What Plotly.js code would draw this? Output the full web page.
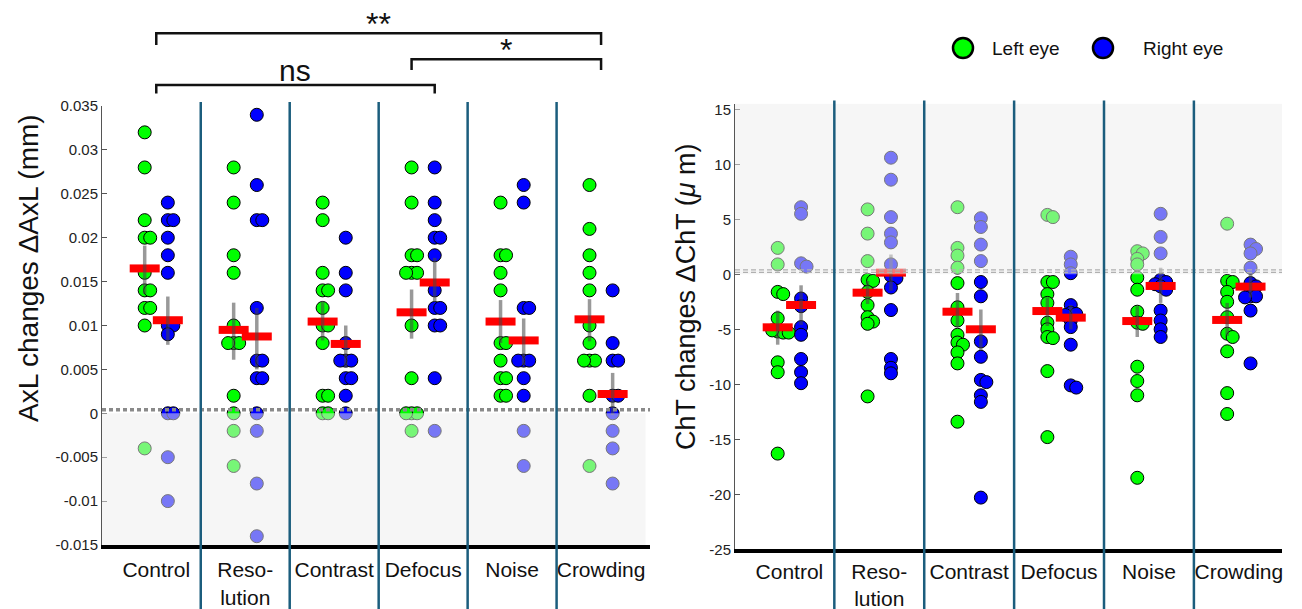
<!DOCTYPE html>
<html>
<head>
<meta charset="utf-8">
<script src="https://cdn.plot.ly/plotly-3.0.1.min.js"></script>
<style>
  html, body { margin: 0; padding: 0; background: #ffffff; }
  #chart { width: 1302px; height: 609px; }
</style>
</head>
<body>
<div id="chart"></div>
<script>
// ---------------- DATA ----------------
const categories = ['Control', 'Reso-<br>lution', 'Contrast', 'Defocus', 'Noise', 'Crowding'];
const catPositions = [1, 2, 3, 4, 5, 6];

// Axial length change (mm), per condition
const axlLeft = [
  [0.032, 0.028, 0.022, 0.020, 0.020, 0.016, 0.014, 0.014, 0.012, 0.012, 0.010, -0.004],
  [0.028, 0.024, 0.018, 0.016, 0.010, 0.008, 0.008, 0.008, 0.002, 0, -0.002, -0.006],
  [0.024, 0.022, 0.016, 0.014, 0.014, 0.012, 0.010, 0.010, 0.008, 0.002, 0.002, 0, 0],
  [0.028, 0.024, 0.018, 0.018, 0.016, 0.016, 0.016, 0.010, 0.004, 0, 0, 0, -0.002],
  [0.024, 0.018, 0.018, 0.016, 0.014, 0.008, 0.008, 0.006, 0.004, 0.004, 0.002, 0.002],
  [0.026, 0.021, 0.018, 0.016, 0.014, 0.010, 0.008, 0.006, 0.006, 0.006, 0.002, -0.006]
];
const axlRight = [
  [0.024, 0.022, 0.022, 0.020, 0.018, 0.016, 0.010, 0.010, 0.009, 0, 0, -0.005, -0.010],
  [0.034, 0.026, 0.022, 0.022, 0.012, 0.006, 0.006, 0.004, 0.004, 0, -0.002, -0.008, -0.014],
  [0.020, 0.016, 0.014, 0.008, 0.006, 0.006, 0.006, 0.004, 0.004, 0.002, 0],
  [0.028, 0.024, 0.022, 0.020, 0.020, 0.018, 0.014, 0.012, 0.012, 0.010, 0.010, 0.004, -0.002],
  [0.026, 0.024, 0.012, 0.012, 0.006, 0.006, 0.006, 0.004, 0.002, -0.002, -0.006],
  [0.014, 0.008, 0.006, 0.006, 0.002, 0.002, 0, -0.002, -0.004, -0.008]
];
const axlMeanLeft  = [0.0165, 0.0095, 0.01045, 0.0115, 0.01045, 0.0107];
const axlMeanRight = [0.0106, 0.00875, 0.0079, 0.0149, 0.0083, 0.0022];
const axlCiLeft  = [[0.0136, 0.0191], [0.0061, 0.0126], [0.0083, 0.0128], [0.0085, 0.0141], [0.0080, 0.0129], [0.0082, 0.0130]];
const axlCiRight = [[0.0078, 0.0133], [0.0050, 0.0120], [0.0052, 0.0100], [0.0127, 0.0177], [0.0055, 0.0108], [-0.0002, 0.0046]];

// Choroidal thickness change (µm), per condition
const chtLeft = [
  [2.4, 0.9, -1.6, -1.8, -4.0, -5.2, -5.3, -5.1, -5.3, -8.0, -8.9, -16.3],
  [5.9, 3.7, 1.2, -0.5, -0.6, -1.6, -2.8, -3.9, -4.3, -4.5, -11.1],
  [6.1, 2.4, 1.7, 0.6, -0.8, -3.0, -4.2, -5.5, -6.2, -6.4, -7.1, -8.1, -13.4],
  [5.4, 5.2, -0.7, -0.7, -1.8, -2.6, -4.4, -5.0, -5.7, -5.8, -8.8, -14.8],
  [2.1, 1.9, 1.4, 0.9, -0.3, -1.4, -3.4, -4.4, -4.5, -8.4, -9.7, -11.0, -18.5],
  [4.6, -0.6, -0.7, -1.6, -2.5, -3.9, -5.4, -5.7, -7.0, -10.8, -12.7]
];
const chtRight = [
  [6.1, 5.5, 1.0, 0.7, -2.2, -2.9, -4.8, -5.5, -7.7, -8.9, -9.9],
  [10.6, 8.6, 5.2, 3.7, 2.9, 0.9, -0.15, -0.35, -1.2, -3.25, -7.7, -8.5, -9.0],
  [5.1, 4.3, 2.7, 1.2, -0.7, -2.0, -6.1, -7.5, -9.6, -9.8, -11.0, -11.6, -20.3],
  [1.6, 0.9, 0.1, -2.8, -3.5, -3.6, -3.7, -4.2, -4.8, -6.4, -10.1, -10.3],
  [5.5, 3.4, 1.9, -0.5, -0.7, -0.9, -1.1, -1.4, -3.3, -4.2, -5.0, -5.7],
  [2.7, 2.3, 1.9, 0.6, -0.8, -1.1, -1.4, -2.0, -2.0, -2.1, -3.3, -8.1]
];
const chtMeanLeft  = [-4.82, -1.67, -3.4, -3.34, -4.25, -4.15];
const chtMeanRight = [-2.79, 0.15, -5.0, -3.94, -1.06, -1.12];
const chtCiLeft  = [[-6.4, -3.3], [-2.7, -0.6], [-4.8, -1.7], [-4.7, -2.1], [-5.7, -2.9], [-5.6, -2.6]];
const chtCiRight = [[-4.6, -1.0], [-1.5, 1.8], [-6.9, -3.2], [-5.0, -2.8], [-2.6, 0.6], [-2.1, 0.1]];

// reference lines and axis ticks
const axlRefLine = 0.0004;
const chtRefLines = [0.18, 0.4];
const axlTickVals = [0.035, 0.03, 0.025, 0.02, 0.015, 0.01, 0.005, 0, -0.005, -0.01, -0.015];
const axlTickText = ['0.035', '0.03', '0.025', '0.02', '0.015', '0.01', '0.005', '0', '-0.005', '-0.01', '-0.015'];
const chtTickVals = [15, 10, 5, 0, -5, -10, -15, -20, -25];
const chtTickText = ['15', '10', '5', '0', '-5', '-10', '-15', '-20', '-25'];

// significance comparisons (between condition positions)
const sigLabels = ['**', '*', 'ns'];
const legendNames = ['Left eye', 'Right eye'];

// ---------------- LAYOUT / STYLE ----------------
const W = 1302, H = 609;
const GREEN = '#00ff00', BLUE = '#0000ff';
const SEP = '#1b5d7d';
const FONT = 'Liberation Sans, Arial, sans-serif';

const P = {
  left:  { xdom: [102 / W, 650 / W], ydom: [1 - 545 / H, 1 - 106 / H], xr: [0.39, 6.55], yr: [-0.015, 0.035], ax: 'x', ay: 'y' },
  right: { xdom: [735 / W, 1282 / W], ydom: [1 - 549.3 / H, 1 - 103.8 / H], xr: [0.395, 6.48], yr: [-25, 15.5], ax: 'x2', ay: 'y2' }
};
function pxX(p) { return (p.xdom[1] - p.xdom[0]) * W / (p.xr[1] - p.xr[0]); }
function pxY(p) { return (p.ydom[1] - p.ydom[0]) * H / (p.yr[1] - p.yr[0]); }

const EYE_OFF = 0.13;

// simple beeswarm so overlapping points sit side by side
function swarm(vals, base, p) {
  const sx = pxX(p), sy = pxY(p);
  const step = 5.5, minD = 5.2;
  const placed = [];
  const cands = [0, 1, -1, 2, -2, 3, -3, 4, -4];
  vals.forEach(v => {
    let chosen = 0;
    for (const k of cands) {
      const xpx = k * step;
      const ok = placed.every(q => Math.hypot(q.xpx - xpx, (q.v - v) * sy) >= minD);
      if (ok) { chosen = xpx; break; }
    }
    placed.push({ xpx: chosen, v: v });
  });
  return placed.map(q => base + q.xpx / sx);
}

const traces = [];
function addPanel(p, dataL, dataR, meanL, meanR, ciL, ciR) {
  const series = [[dataL, -EYE_OFF, GREEN, meanL, ciL], [dataR, EYE_OFF, BLUE, meanR, ciR]];
  // points
  series.forEach(s => {
    const xs = [], ys = [];
    s[0].forEach((vals, gi) => {
      const xx = swarm(vals, catPositions[gi] + s[1], p);
      vals.forEach((v, k) => { xs.push(xx[k]); ys.push(v); });
    });
    traces.push({
      type: 'scatter', mode: 'markers', x: xs, y: ys, xaxis: p.ax, yaxis: p.ay,
      marker: { color: s[2], size: 13, line: { color: '#000', width: 1 } },
      showlegend: false, hoverinfo: 'skip'
    });
  });
  // mean bars
  const hw = 15 / pxX(p);
  const mx = [], my = [];
  series.forEach(s => {
    s[3].forEach((m, gi) => {
      const c = catPositions[gi] + s[1];
      mx.push(c - hw, c + hw, null); my.push(m, m, null);
    });
  });
  traces.push({
    type: 'scatter', mode: 'lines', x: mx, y: my, xaxis: p.ax, yaxis: p.ay,
    line: { color: '#ff0000', width: 8 }, showlegend: false, hoverinfo: 'skip'
  });
  // CI lines
  const ex = [], ey = [];
  series.forEach(s => {
    s[4].forEach((ci, gi) => {
      const c = catPositions[gi] + s[1];
      ex.push(c, c, null); ey.push(ci[0], ci[1], null);
    });
  });
  traces.push({
    type: 'scatter', mode: 'lines', x: ex, y: ey, xaxis: p.ax, yaxis: p.ay,
    line: { color: 'rgba(70,70,70,0.55)', width: 3.5 }, showlegend: false, hoverinfo: 'skip'
  });
}
addPanel(P.left, axlLeft, axlRight, axlMeanLeft, axlMeanRight, axlCiLeft, axlCiRight);
addPanel(P.right, chtLeft, chtRight, chtMeanLeft, chtMeanRight, chtCiLeft, chtCiRight);

const shapes = [];
// fading overlays
shapes.push({ type: 'rect', xref: 'x', yref: 'y', x0: P.left.xr[0], x1: 6.5, y0: P.left.yr[0], y1: 0,
  fillcolor: 'rgba(238,238,238,0.5)', line: { width: 0 }, layer: 'above' });
shapes.push({ type: 'rect', xref: 'x2', yref: 'y2', x0: P.right.xr[0], x1: P.right.xr[1], y0: 0, y1: P.right.yr[1],
  fillcolor: 'rgba(238,238,238,0.5)', line: { width: 0 }, layer: 'above' });
// reference lines
shapes.push({ type: 'line', xref: 'x', yref: 'y', x0: P.left.xr[0], x1: P.left.xr[1], y0: axlRefLine, y1: axlRefLine,
  line: { color: '#8a8a8a', width: 3.5, dash: '4px,3px' }, layer: 'above' });
chtRefLines.forEach(v => shapes.push({ type: 'line', xref: 'x2', yref: 'y2', x0: P.right.xr[0], x1: P.right.xr[1], y0: v, y1: v,
  line: { color: '#b0b0b0', width: 1.2, dash: '5px,3px' }, layer: 'above' }));
// separators (drawn on top of the fading overlays)
[P.left, P.right].forEach((p, i) => {
  for (let k = 0; k < catPositions.length - 1; k++) {
    const xm = (catPositions[k] + catPositions[k + 1]) / 2;
    shapes.push({ type: 'line', xref: p.ax, yref: 'paper', x0: xm, x1: xm, y0: 0, y1: i === 0 ? 1 - 102 / H : 1 - 100.5 / H,
      line: { color: SEP, width: 2.5 }, layer: 'above' });
  }
});

// significance brackets: [x0, x1, yTopPx, yEndPx]
const brackets = [[1.0, 6.0, 33.3, 45], [3.87, 6.0, 59.3, 70], [1.0, 4.13, 85, 93.5]];
brackets.forEach(b => {
  shapes.push({ type: 'path', xref: 'x', yref: 'paper',
    path: `M ${b[0]},${1 - b[3] / H} L ${b[0]},${1 - b[2] / H} L ${b[1]},${1 - b[2] / H} L ${b[1]},${1 - b[3] / H}`,
    line: { color: '#111', width: 2.5 }, layer: 'above' });
});

// legend circles
const legendX = [963 / W, 1103 / W];
[GREEN, BLUE].forEach((c, i) => {
  shapes.push({ type: 'circle', xref: 'paper', yref: 'paper', xsizemode: 'pixel', ysizemode: 'pixel',
    xanchor: legendX[i], yanchor: 1 - 48 / H, x0: -10, x1: 10, y0: -10, y1: 10,
    fillcolor: c, line: { color: '#000', width: 2.5 } });
});

const annotations = [];
// axis titles
annotations.push({ xref: 'paper', yref: 'paper', x: 28 / W, y: 1 - 268 / H, xanchor: 'center', yanchor: 'middle',
  text: 'AxL changes ΔAxL (mm)',
  textangle: -90, showarrow: false, font: { family: FONT, size: 28, color: '#111' } });
annotations.push({ xref: 'paper', yref: 'paper', x: 686 / W, y: 1 - 297 / H, xanchor: 'center', yanchor: 'middle',
  text: 'ChT changes ΔChT (<i>μ</i> m)',
  textangle: -90, showarrow: false, font: { family: FONT, size: 27, color: '#111' } });
// bracket labels
const sigPos = [[(1 + 6) / 2, 44], [(3.87 + 6) / 2, 70], [(1 + 4.13) / 2, 89]];
const sigSize = [32, 32, 30];
sigLabels.forEach((t, i) => annotations.push({ xref: 'x', yref: 'paper', x: sigPos[i][0], y: 1 - sigPos[i][1] / H,
  xanchor: 'center', yanchor: 'bottom', text: t, showarrow: false, font: { family: FONT, size: sigSize[i], color: '#111' } }));
// legend labels
const legendTextX = [990 / W, 1141 / W];
legendNames.forEach((t, i) => annotations.push({ xref: 'paper', yref: 'paper', x: legendTextX[i], y: 1 - 48 / H,
  xanchor: 'left', yanchor: 'middle', text: t, showarrow: false, font: { family: FONT, size: 19, color: '#111' } }));

function xax(p, standoff) {
  return { domain: p.xdom, range: p.xr, anchor: p.ay, showgrid: false, zeroline: false, showline: true,
    linecolor: '#000', linewidth: 4, ticks: '', tickvals: catPositions, ticktext: categories,
    ticklabelstandoff: standoff,
    tickfont: { family: FONT, size: 21, color: '#111' }, fixedrange: true };
}
function yax(p, tv, tt) {
  return { domain: p.ydom, range: p.yr, anchor: p.ax, showgrid: false, zeroline: false, showline: true,
    linecolor: '#555', linewidth: 1, ticks: 'inside', ticklen: 5, tickcolor: '#555', tickwidth: 1,
    tickvals: tv, ticktext: tt, tickfont: { family: FONT, size: 15, color: '#222' }, fixedrange: true };
}

const layout = {
  width: W, height: H, margin: { l: 0, r: 0, t: 0, b: 0 },
  paper_bgcolor: '#ffffff', plot_bgcolor: 'rgba(0,0,0,0)', showlegend: false,
  font: { family: FONT },
  xaxis: xax(P.left, 3), yaxis: yax(P.left, axlTickVals, axlTickText),
  xaxis2: xax(P.right, 0), yaxis2: yax(P.right, chtTickVals, chtTickText),
  shapes: shapes, annotations: annotations
};

Plotly.newPlot('chart', traces, layout, { displayModeBar: false, staticPlot: true });
</script>
</body>
</html>
